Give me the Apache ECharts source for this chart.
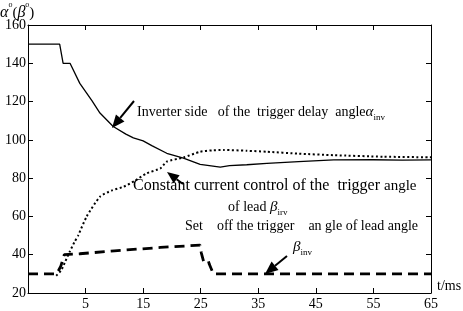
<!DOCTYPE html>
<html>
<head>
<meta charset="utf-8">
<script src="https://cdn.jsdelivr.net/npm/echarts@6/dist/echarts.min.js"></script>
<style>
  html, body { margin: 0; padding: 0; background: #fff; }
  #main { width: 463px; height: 311px; }
</style>
</head>
<body>
<div id="main"></div>
<script>
// inverter side trigger delay angle alpha_inv (solid)
const tAlpha = [-5, 0.5, 1.1, 2.3, 4.0, 6.1, 7.5, 9.8, 12, 13.3, 15, 16.5, 19.1, 22, 24.9, 28.4, 30, 33, 36.5, 42, 48.1, 55, 60, 65];
const vAlpha = [150, 150, 140, 140, 129.5, 120.5, 114, 107, 103, 101, 99.5, 97, 93, 90.4, 87.2, 85.8, 86.5, 87, 87.7, 88.6, 89.5, 89.6, 89.4, 89.5];
// constant current control trigger angle of lead beta (dotted)
const tBeta = [-0.1, 0.8, 1.4, 2.25, 3.1, 3.7, 5.2, 7.5, 9.5, 11.6, 13.5, 15.6, 18, 19.1, 22, 24.9, 27, 29, 33, 36.5, 42, 48.1, 56.7, 65];
const vBeta = [29, 32, 36, 41.6, 46.8, 50, 60, 70.3, 73.5, 75.5, 78.5, 82.5, 85.1, 88.6, 90.8, 93.8, 94.5, 94.7, 94.3, 93.8, 92.8, 92, 91.2, 90.9];
// set trigger angle of lead beta_inv (dashed)
const tSet = [-5, 0, 0.7, 1.3, 4, 10, 18, 24.9, 25, 25.1, 25.5, 26.3, 26.5, 27.2, 65];
const vSet = [30, 30, 34, 40, 40.5, 42, 43.8, 45, 45, 41, 36.5, 37, 35, 30, 30];

const yTicks = [20, 160, 20]; // min, max, step
const xTicks = [-5, 65, 10];

const pairs = (t, v) => t.map((x, i) => [x, v[i]]);
const font = '"Liberation Serif", "DejaVu Serif", serif';

function arrow(x1, y1, x2, y2, len, half) {
  const dx = x2 - x1, dy = y2 - y1;
  const d = Math.sqrt(dx * dx + dy * dy);
  const ux = dx / d, uy = dy / d;
  const bx = x2 - ux * len, by = y2 - uy * len;
  return [
    { type: 'line', shape: { x1: x1, y1: y1, x2: bx, y2: by }, style: { stroke: '#000', lineWidth: 2 } },
    { type: 'polygon', shape: { points: [[x2, y2], [bx - uy * half, by + ux * half], [bx + uy * half, by - ux * half]] }, style: { fill: '#000' } }
  ];
}

const chartDom = document.getElementById('main');
const myChart = echarts.init(chartDom);

const sub = { fontFamily: font, fontSize: 9, verticalAlign: 'bottom', padding: [0, 0, -3, 0] };
const greek = { fontFamily: font, fontSize: 15, fontStyle: 'italic' };

const option = {
  backgroundColor: '#fff',
  animation: false,
  grid: { left: 28, right: 32, top: 25, bottom: 18 },
  xAxis: [{
    type: 'value', min: xTicks[0], max: xTicks[1], interval: xTicks[2],
    axisLine: { onZero: false, lineStyle: { color: '#000', width: 1 } },
    axisTick: { inside: true, length: 5, lineStyle: { color: '#000' } },
    axisLabel: { color: '#000', fontFamily: font, fontSize: 14, margin: 4,
      formatter: v => (v === xTicks[0] ? '' : String(v)) },
    splitLine: { show: false }
  }, {
    type: 'value', position: 'top', min: xTicks[0], max: xTicks[1], interval: xTicks[2],
    axisLine: { onZero: false, lineStyle: { color: '#000', width: 1 } },
    axisTick: { inside: true, length: 5, lineStyle: { color: '#000' } },
    axisLabel: { show: false }, splitLine: { show: false }
  }],
  yAxis: [{
    type: 'value', min: yTicks[0], max: yTicks[1], interval: yTicks[2],
    axisLine: { show: true, onZero: false, lineStyle: { color: '#000', width: 1 } },
    axisTick: { show: true, inside: true, length: 5, lineStyle: { color: '#000' } },
    axisLabel: { color: '#000', fontFamily: font, fontSize: 14, margin: 2 },
    splitLine: { show: false }
  }, {
    type: 'value', position: 'right', min: yTicks[0], max: yTicks[1], interval: yTicks[2],
    axisLine: { show: true, onZero: false, lineStyle: { color: '#000', width: 1 } },
    axisTick: { show: true, inside: true, length: 5, lineStyle: { color: '#000' } },
    axisLabel: { show: false }, splitLine: { show: false }
  }],
  series: [{
    type: 'line', name: 'alpha', data: pairs(tAlpha, vAlpha), showSymbol: false,
    lineStyle: { color: '#000', width: 1.3 }
  }, {
    type: 'line', name: 'beta', data: pairs(tBeta, vBeta), showSymbol: false, smooth: 0.2,
    lineStyle: { color: '#000', width: 2, type: [2, 2.5] }
  }, {
    type: 'line', name: 'set', data: pairs(tSet, vSet), showSymbol: false,
    lineStyle: { color: '#000', width: 2.8, type: [10, 6] }
  }],
  graphic: [
    { type: 'text', left: 0, top: 1, style: {
      text: '{g|α}{s|o}{p|(}{g|β}{s|o}{p|)}', fill: '#000',
      rich: { g: { fontFamily: font, fontSize: 16, fontStyle: 'italic' }, p: { fontFamily: font, fontSize: 15 }, s: { fontFamily: font, fontSize: 8, verticalAlign: 'top', padding: [-4, 0, 0, 0] } } } },
    { type: 'text', left: 437, top: 279, style: { text: 't/ms', fill: '#000', font: '14px ' + font } },
    { type: 'text', x: 137, y: 112, style: {
      text: 'Inverter side   of the  trigger delay  angle{g|α}{s|inv}', fill: '#000', verticalAlign: 'middle',
      font: '14px ' + font, rich: { g: greek, s: sub } } },
    { type: 'text', x: 133, y: 186, style: {
      text: 'Constant current control of the  trigger {a|angle}', fill: '#000', verticalAlign: 'middle',
      font: '16px ' + font, rich: { a: { fontFamily: font, fontSize: 15 } } } },
    { type: 'text', x: 228, y: 207, style: {
      text: 'of lead {g|β}{s|irv}', fill: '#000', verticalAlign: 'middle',
      font: '14px ' + font, rich: { g: greek, s: sub } } },
    { type: 'text', x: 185, y: 226, style: {
      text: 'Set    off the trigger    an gle of lead angle', fill: '#000', verticalAlign: 'middle',
      font: '14px ' + font } },
    { type: 'text', x: 293, y: 247, style: {
      text: '{g|β}{s|inv}', fill: '#000', verticalAlign: 'middle', rich: { g: greek, s: sub } } }
  ].concat(arrow(134, 101, 112, 128, 13, 5.5))
   .concat(arrow(183, 184, 167, 172, 12, 5))
   .concat(arrow(287, 256, 265, 274, 13, 5.5))
};

option && myChart.setOption(option);
</script>
</body>
</html>
